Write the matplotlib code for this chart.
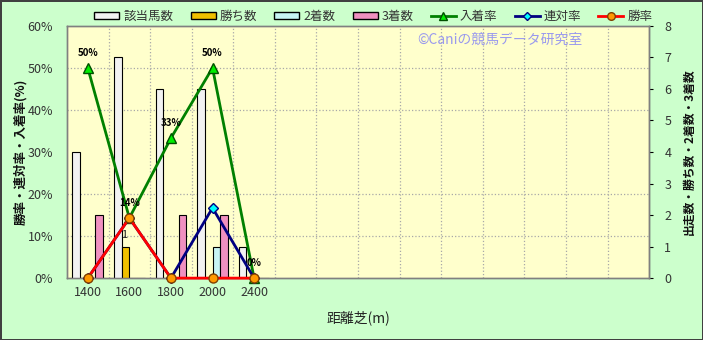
import matplotlib
matplotlib.use("Agg")
import matplotlib.pyplot as plt
import numpy as np
from matplotlib.ticker import FixedLocator, FuncFormatter
from matplotlib.lines import Line2D
from matplotlib.patches import Patch

plt.rcParams['font.family'] = ['Noto Sans CJK JP', 'DejaVu Sans']

categories = ['1400', '1600', '1800', '2000', '2400']
n_slots = 14
runners = [4, 7, 6, 6, 1]
wins = [0, 1, 0, 0, 0]
seconds = [0, 0, 0, 1, 0]
thirds = [2, 0, 2, 2, 0]
place_rate = [50, 14.3, 33.3, 50, 0]
quinella_rate = [0, 14.3, 0, 16.7, 0]
win_rate = [0, 14.3, 0, 0, 0]
place_labels = ['50%', '14%', '33%', '50%', '0%']

fig = plt.figure(figsize=(7.03, 3.4), dpi=100)
fig.patch.set_facecolor('#ccffcc')
fig.patch.set_edgecolor('#404040')
fig.patch.set_linewidth(2)

ax = fig.add_axes([0.0953, 0.182, 0.828, 0.742])
ax.set_facecolor('#ffffcc')
ax2 = ax.twinx()
ax2.patch.set_visible(False)

x = np.arange(len(categories))
w = 0.185
bar_specs = [
    (runners, '#f2f2f2', -1.5),
    (wins, '#f0c000', -0.5),
    (seconds, '#c8f4f4', 0.5),
    (thirds, '#f090c0', 1.5),
]
for vals, col, off in bar_specs:
    ax.bar(x + off * w, vals, width=w, color=col, edgecolor='black', linewidth=0.8, zorder=3)

ax.set_xlim(-0.5, n_slots - 0.5)
ax.set_ylim(0, 8)
ax2.set_ylim(0, 60)

# gridlines
ax.xaxis.set_minor_locator(FixedLocator(np.arange(0.5, n_slots - 0.5, 1)))
ax.yaxis.set_minor_locator(FixedLocator(np.arange(1, 6) * 8 / 6))
ax.grid(which='minor', axis='both', color='#a8a8a8', linestyle=':', linewidth=0.9, zorder=0)
ax.set_axisbelow(True)
ax.tick_params(which='minor', length=0)

ax.set_xticks(x)
ax.set_xticklabels(categories)
ax.tick_params(axis='x', length=0, pad=6, labelsize=9, labelcolor='#333333')

# counts axis on right
ax.yaxis.tick_right()
ax.yaxis.set_label_position('right')
ax.set_yticks(range(0, 9))
ax.tick_params(axis='y', which='major', direction='out', length=3, labelsize=9, labelcolor='#333333', pad=8)

# percent axis on left
ax2.yaxis.tick_left()
ax2.yaxis.set_label_position('left')
ax2.set_yticks(range(0, 61, 10))
ax2.yaxis.set_major_formatter(FuncFormatter(lambda v, p: f'{int(v)}%'))
ax2.tick_params(axis='y', length=0, labelsize=9, labelcolor='#333333', pad=10)

for a in (ax, ax2):
    for s in a.spines.values():
        s.set_color('#808080')
        s.set_linewidth(1)
ax.spines['right'].set_color('#606060')

ax2.plot(x, place_rate, color='#008000', linewidth=2, marker='^', markersize=7,
         markerfacecolor='#00ee00', markeredgecolor='#005000', zorder=4, clip_on=False)
ax2.plot(x, quinella_rate, color='#000080', linewidth=2, marker='D', markersize=5,
         markerfacecolor='#00ffff', markeredgecolor='#000080', zorder=5, clip_on=False)
ax2.plot(x, win_rate, color='#ff0000', linewidth=2, marker='o', markersize=6.5,
         markerfacecolor='#ff9900', markeredgecolor='#804000', zorder=6, clip_on=False)

for xi, yv, lab in zip(x, place_rate, place_labels):
    ax2.annotate(lab, (xi, yv), xytext=(0, 11), textcoords='offset points',
                 ha='center', va='center', fontsize=7, fontweight='bold', color='black', zorder=7)

for xi, v in zip(x, wins):
    if v > 0:
        ax.annotate(str(v), (xi - 0.5 * w, v), xytext=(-1, 8), textcoords='offset points',
                    ha='center', va='center', fontsize=8, color='#202020', zorder=7)

ax.text(0.744, 0.944, '©Caniの競馬データ研究室', transform=ax.transAxes, ha='center', va='center',
        fontsize=10, color='#9999ee', zorder=8)

ax.set_xlabel('距離芝(m)', fontsize=10, color='#222222', labelpad=8)
ax2.set_ylabel('勝率・連対率・入着率(%)', fontsize=9, fontweight='bold', color='#111111', labelpad=0)
ax.set_ylabel('出走数・勝ち数・2着数・3着数', fontsize=8.5, fontweight='bold', color='#111111',
              rotation=90, labelpad=8)

handles = [
    Patch(facecolor='#f2f2f2', edgecolor='black', label='該当馬数'),
    Patch(facecolor='#f0c000', edgecolor='black', label='勝ち数'),
    Patch(facecolor='#c8f4f4', edgecolor='black', label='2着数'),
    Patch(facecolor='#f090c0', edgecolor='black', label='3着数'),
    Line2D([], [], color='#008000', lw=2, marker='^', markersize=6, markerfacecolor='#00ee00', markeredgecolor='#005000', label='入着率'),
    Line2D([], [], color='#000080', lw=2, marker='D', markersize=4.5, markerfacecolor='#00ffff', markeredgecolor='#000080', label='連対率'),
    Line2D([], [], color='#ff0000', lw=2, marker='o', markersize=5.5, markerfacecolor='#ff9900', markeredgecolor='#804000', label='勝率'),
]
fig.legend(handles=handles, loc='center', bbox_to_anchor=(0.531, 0.952), ncol=7, frameon=False,
           fontsize=9, handlelength=2.0, handleheight=0.55, columnspacing=1.4, handletextpad=0.3,
           labelcolor='#333333')

fig.savefig('out.png', dpi=100, facecolor=fig.get_facecolor(), edgecolor=fig.get_edgecolor())
